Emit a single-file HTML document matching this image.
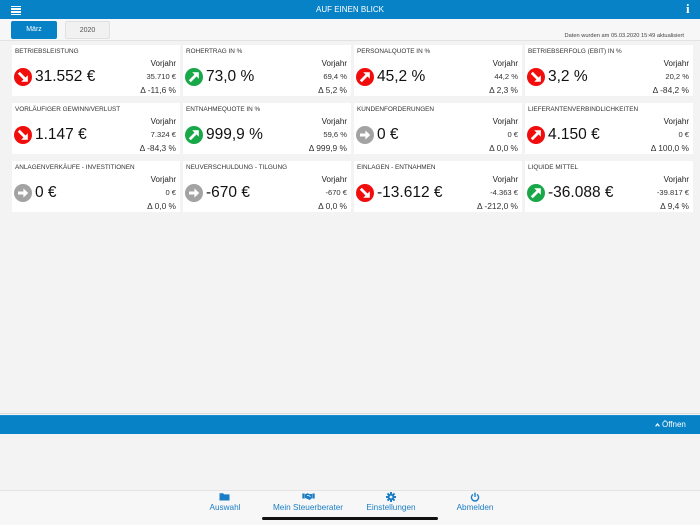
<!DOCTYPE html>
<html><head><meta charset="utf-8"><style>
*{margin:0;padding:0;box-sizing:border-box}
html,body{width:700px;height:525px;overflow:hidden;background:#f3f3f3;font-family:"Liberation Sans",Arial,sans-serif;position:relative}
.abs{position:absolute}
#hdr{left:0;top:0;width:700px;height:19px;background:#0782c7}
#hdr .t{left:0;width:700px;top:0;height:19px;line-height:19px;text-align:center;color:#fff;font-size:8px}
.hb{left:11px;width:10px;height:1.5px;background:#fff}
#tabs{left:0;top:19px;width:700px;height:22px;background:#f7f7f7;border-bottom:1px solid #e2e2e2}
.tab{top:21px;height:18px;line-height:18px;text-align:center;font-size:7px;border-radius:2px}
.card{width:168px;height:51px;background:#fff}
.card .ti{left:3px;top:1.5px;height:10px;line-height:10px;font-size:6.4px;color:#333;white-space:nowrap}
.card .vj{right:4px;top:14px;height:10px;line-height:10px;font-size:8px;color:#222}
.card .ic{left:1.5px;top:22.5px;width:18px;height:18px}
.card .v{left:23px;top:22px;height:20px;line-height:20px;font-size:15.5px;color:#111;white-space:nowrap}
.card .pv{right:4px;top:26.5px;height:10px;line-height:10px;font-size:7.6px;color:#333;white-space:nowrap}
.card .d{right:4px;top:40px;height:10px;line-height:10px;font-size:8.4px;color:#333;white-space:nowrap}
#bar{left:0;top:415px;width:700px;height:19px;background:#0782c7;border-top:1px solid #1a8fd0}
#nav{left:0;top:490px;width:700px;height:35px;background:#f7f7f7;border-top:1px solid #e4e4e4}
.nl{top:503px;height:10px;line-height:10px;font-size:8.2px;color:#1b7ec6;text-align:center;width:100px;white-space:nowrap}
</style></head><body>

<div id="hdr" class="abs">
  <div class="abs t">AUF EINEN BLICK</div>
  <div class="abs hb" style="top:5.5px"></div>
  <div class="abs hb" style="top:8.3px"></div>
  <div class="abs hb" style="top:11.1px"></div>
  <div class="abs hb" style="top:13.9px"></div>
  <div class="abs" style="left:686px;top:1px;height:16px;line-height:16px;font-family:'Liberation Serif',serif;font-weight:bold;font-size:13px;color:#fff">i</div>
</div>

<div id="tabs" class="abs"></div>
<div class="abs tab" style="left:11px;width:46px;background:#0782c7;color:#fff">März</div>
<div class="abs tab" style="left:65px;width:45px;background:#f1f1f1;border:1px solid #e0e0e0;color:#555">2020</div>
<div class="abs" style="right:16px;top:32px;height:9px;line-height:9px;font-size:5.7px;color:#444">Daten wurden am 05.03.2020 15:49 aktualisiert</div>

<!-- Row 1 -->
<div class="abs card" style="left:12px;top:45px">
  <div class="abs ti">BETRIEBSLEISTUNG</div><div class="abs vj">Vorjahr</div>
  <svg class="abs ic" viewBox="0 0 18 18"><circle cx="9" cy="9" r="9" fill="#f20d0d"/><line x1="4.8" y1="4.8" x2="11" y2="11" stroke="#fff" stroke-width="2.8"/><polygon points="13.8,13.8 13.8,7.2 7.2,13.8" fill="#fff"/></svg>
  <div class="abs v">31.552 €</div><div class="abs pv">35.710 €</div><div class="abs d">Δ -11,6 %</div>
</div>
<div class="abs card" style="left:183px;top:45px">
  <div class="abs ti">ROHERTRAG IN %</div><div class="abs vj">Vorjahr</div>
  <svg class="abs ic" viewBox="0 0 18 18"><circle cx="9" cy="9" r="9" fill="#18a84a"/><line x1="4.8" y1="13.2" x2="11" y2="7" stroke="#fff" stroke-width="2.8"/><polygon points="13.8,4.2 7.2,4.2 13.8,10.8" fill="#fff"/></svg>
  <div class="abs v">73,0 %</div><div class="abs pv">69,4 %</div><div class="abs d">Δ 5,2 %</div>
</div>
<div class="abs card" style="left:354px;top:45px">
  <div class="abs ti">PERSONALQUOTE IN %</div><div class="abs vj">Vorjahr</div>
  <svg class="abs ic" viewBox="0 0 18 18"><circle cx="9" cy="9" r="9" fill="#f20d0d"/><line x1="4.8" y1="13.2" x2="11" y2="7" stroke="#fff" stroke-width="2.8"/><polygon points="13.8,4.2 7.2,4.2 13.8,10.8" fill="#fff"/></svg>
  <div class="abs v">45,2 %</div><div class="abs pv">44,2 %</div><div class="abs d">Δ 2,3 %</div>
</div>
<div class="abs card" style="left:525px;top:45px">
  <div class="abs ti">BETRIEBSERFOLG (EBIT) IN %</div><div class="abs vj">Vorjahr</div>
  <svg class="abs ic" viewBox="0 0 18 18"><circle cx="9" cy="9" r="9" fill="#f20d0d"/><line x1="4.8" y1="4.8" x2="11" y2="11" stroke="#fff" stroke-width="2.8"/><polygon points="13.8,13.8 13.8,7.2 7.2,13.8" fill="#fff"/></svg>
  <div class="abs v">3,2 %</div><div class="abs pv">20,2 %</div><div class="abs d">Δ -84,2 %</div>
</div>

<!-- Row 2 -->
<div class="abs card" style="left:12px;top:103px">
  <div class="abs ti">VORLÄUFIGER GEWINN/VERLUST</div><div class="abs vj">Vorjahr</div>
  <svg class="abs ic" viewBox="0 0 18 18"><circle cx="9" cy="9" r="9" fill="#f20d0d"/><line x1="4.8" y1="4.8" x2="11" y2="11" stroke="#fff" stroke-width="2.8"/><polygon points="13.8,13.8 13.8,7.2 7.2,13.8" fill="#fff"/></svg>
  <div class="abs v">1.147 €</div><div class="abs pv">7.324 €</div><div class="abs d">Δ -84,3 %</div>
</div>
<div class="abs card" style="left:183px;top:103px">
  <div class="abs ti">ENTNAHMEQUOTE IN %</div><div class="abs vj">Vorjahr</div>
  <svg class="abs ic" viewBox="0 0 18 18"><circle cx="9" cy="9" r="9" fill="#18a84a"/><line x1="4.8" y1="13.2" x2="11" y2="7" stroke="#fff" stroke-width="2.8"/><polygon points="13.8,4.2 7.2,4.2 13.8,10.8" fill="#fff"/></svg>
  <div class="abs v">999,9 %</div><div class="abs pv">59,6 %</div><div class="abs d">Δ 999,9 %</div>
</div>
<div class="abs card" style="left:354px;top:103px">
  <div class="abs ti">KUNDENFORDERUNGEN</div><div class="abs vj">Vorjahr</div>
  <svg class="abs ic" viewBox="0 0 18 18"><circle cx="9" cy="9" r="9" fill="#a3a3a3"/><line x1="4" y1="9" x2="10" y2="9" stroke="#fff" stroke-width="3"/><polygon points="14.2,9 9.4,4.4 9.4,13.6" fill="#fff"/></svg>
  <div class="abs v">0 €</div><div class="abs pv">0 €</div><div class="abs d">Δ 0,0 %</div>
</div>
<div class="abs card" style="left:525px;top:103px">
  <div class="abs ti">LIEFERANTENVERBINDLICHKEITEN</div><div class="abs vj">Vorjahr</div>
  <svg class="abs ic" viewBox="0 0 18 18"><circle cx="9" cy="9" r="9" fill="#f20d0d"/><line x1="4.8" y1="13.2" x2="11" y2="7" stroke="#fff" stroke-width="2.8"/><polygon points="13.8,4.2 7.2,4.2 13.8,10.8" fill="#fff"/></svg>
  <div class="abs v">4.150 €</div><div class="abs pv">0 €</div><div class="abs d">Δ 100,0 %</div>
</div>

<!-- Row 3 -->
<div class="abs card" style="left:12px;top:161px">
  <div class="abs ti">ANLAGENVERKÄUFE - INVESTITIONEN</div><div class="abs vj">Vorjahr</div>
  <svg class="abs ic" viewBox="0 0 18 18"><circle cx="9" cy="9" r="9" fill="#a3a3a3"/><line x1="4" y1="9" x2="10" y2="9" stroke="#fff" stroke-width="3"/><polygon points="14.2,9 9.4,4.4 9.4,13.6" fill="#fff"/></svg>
  <div class="abs v">0 €</div><div class="abs pv">0 €</div><div class="abs d">Δ 0,0 %</div>
</div>
<div class="abs card" style="left:183px;top:161px">
  <div class="abs ti">NEUVERSCHULDUNG - TILGUNG</div><div class="abs vj">Vorjahr</div>
  <svg class="abs ic" viewBox="0 0 18 18"><circle cx="9" cy="9" r="9" fill="#a3a3a3"/><line x1="4" y1="9" x2="10" y2="9" stroke="#fff" stroke-width="3"/><polygon points="14.2,9 9.4,4.4 9.4,13.6" fill="#fff"/></svg>
  <div class="abs v">-670 €</div><div class="abs pv">-670 €</div><div class="abs d">Δ 0,0 %</div>
</div>
<div class="abs card" style="left:354px;top:161px">
  <div class="abs ti">EINLAGEN - ENTNAHMEN</div><div class="abs vj">Vorjahr</div>
  <svg class="abs ic" viewBox="0 0 18 18"><circle cx="9" cy="9" r="9" fill="#f20d0d"/><line x1="4.8" y1="4.8" x2="11" y2="11" stroke="#fff" stroke-width="2.8"/><polygon points="13.8,13.8 13.8,7.2 7.2,13.8" fill="#fff"/></svg>
  <div class="abs v">-13.612 €</div><div class="abs pv">-4.363 €</div><div class="abs d">Δ -212,0 %</div>
</div>
<div class="abs card" style="left:525px;top:161px">
  <div class="abs ti">LIQUIDE MITTEL</div><div class="abs vj">Vorjahr</div>
  <svg class="abs ic" viewBox="0 0 18 18"><circle cx="9" cy="9" r="9" fill="#18a84a"/><line x1="4.8" y1="13.2" x2="11" y2="7" stroke="#fff" stroke-width="2.8"/><polygon points="13.8,4.2 7.2,4.2 13.8,10.8" fill="#fff"/></svg>
  <div class="abs v">-36.088 €</div><div class="abs pv">-39.817 €</div><div class="abs d">Δ 9,4 %</div>
</div>

<!-- bottom blue bar -->
<div class="abs" style="left:0;top:413px;width:700px;height:1px;background:#dcdcdc"></div>
<div id="bar" class="abs">
  <svg class="abs" style="left:655px;top:7px" width="5" height="4" viewBox="0 0 5 4"><polyline points="0.6,3.4 2.5,1 4.4,3.4" fill="none" stroke="#fff" stroke-width="1.2"/></svg>
  <div class="abs" style="left:662px;top:0;height:18px;line-height:18px;font-size:8px;color:#fff">Öffnen</div>
</div>

<!-- bottom nav -->
<div id="nav" class="abs"></div>
<svg class="abs" style="left:219px;top:492px" width="11" height="9" viewBox="0 0 11 9"><path d="M0.5 1.2h3.6l1 1.2h5.4v6.1h-10z" fill="#1b7ec6"/></svg>
<svg class="abs" style="left:302px;top:492px" width="13" height="9" viewBox="0 0 13 9"><rect x="0.3" y="1.5" width="2.4" height="5" fill="#1b7ec6"/><rect x="10.3" y="1.5" width="2.4" height="5" fill="#1b7ec6"/><path d="M3 2.2 L5.5 1.2 L7.5 2 L10 2 L10 6 L7.8 8 L5 6.8 L3 6z" fill="#1b7ec6"/><path d="M5 3.5 L7 3.5 L8.5 5" stroke="#f7f7f7" stroke-width="0.7" fill="none"/></svg>
<svg class="abs" style="left:386px;top:491.5px" width="10" height="10" viewBox="0 0 10 10"><g fill="#1b7ec6"><circle cx="5" cy="5" r="3.3"/><rect x="4" y="0" width="2" height="10"/><rect x="0" y="4" width="10" height="2"/><rect x="4" y="0" width="2" height="10" transform="rotate(45 5 5)"/><rect x="4" y="0" width="2" height="10" transform="rotate(-45 5 5)"/></g><circle cx="5" cy="5" r="1.4" fill="#f7f7f7"/></svg>
<svg class="abs" style="left:470px;top:491.5px" width="10" height="10" viewBox="0 0 10 10"><path d="M3 2.4 A3.6 3.6 0 1 0 7 2.4" fill="none" stroke="#1b7ec6" stroke-width="1.4"/><line x1="5" y1="0.6" x2="5" y2="5" stroke="#1b7ec6" stroke-width="1.4"/></svg>

<div class="abs nl" style="left:175px">Auswahl</div>
<div class="abs nl" style="left:258px">Mein Steuerberater</div>
<div class="abs nl" style="left:341px">Einstellungen</div>
<div class="abs nl" style="left:425px">Abmelden</div>

<div class="abs" style="left:262px;top:516.5px;width:176px;height:3.5px;border-radius:2px;background:#111"></div>

</body></html>
